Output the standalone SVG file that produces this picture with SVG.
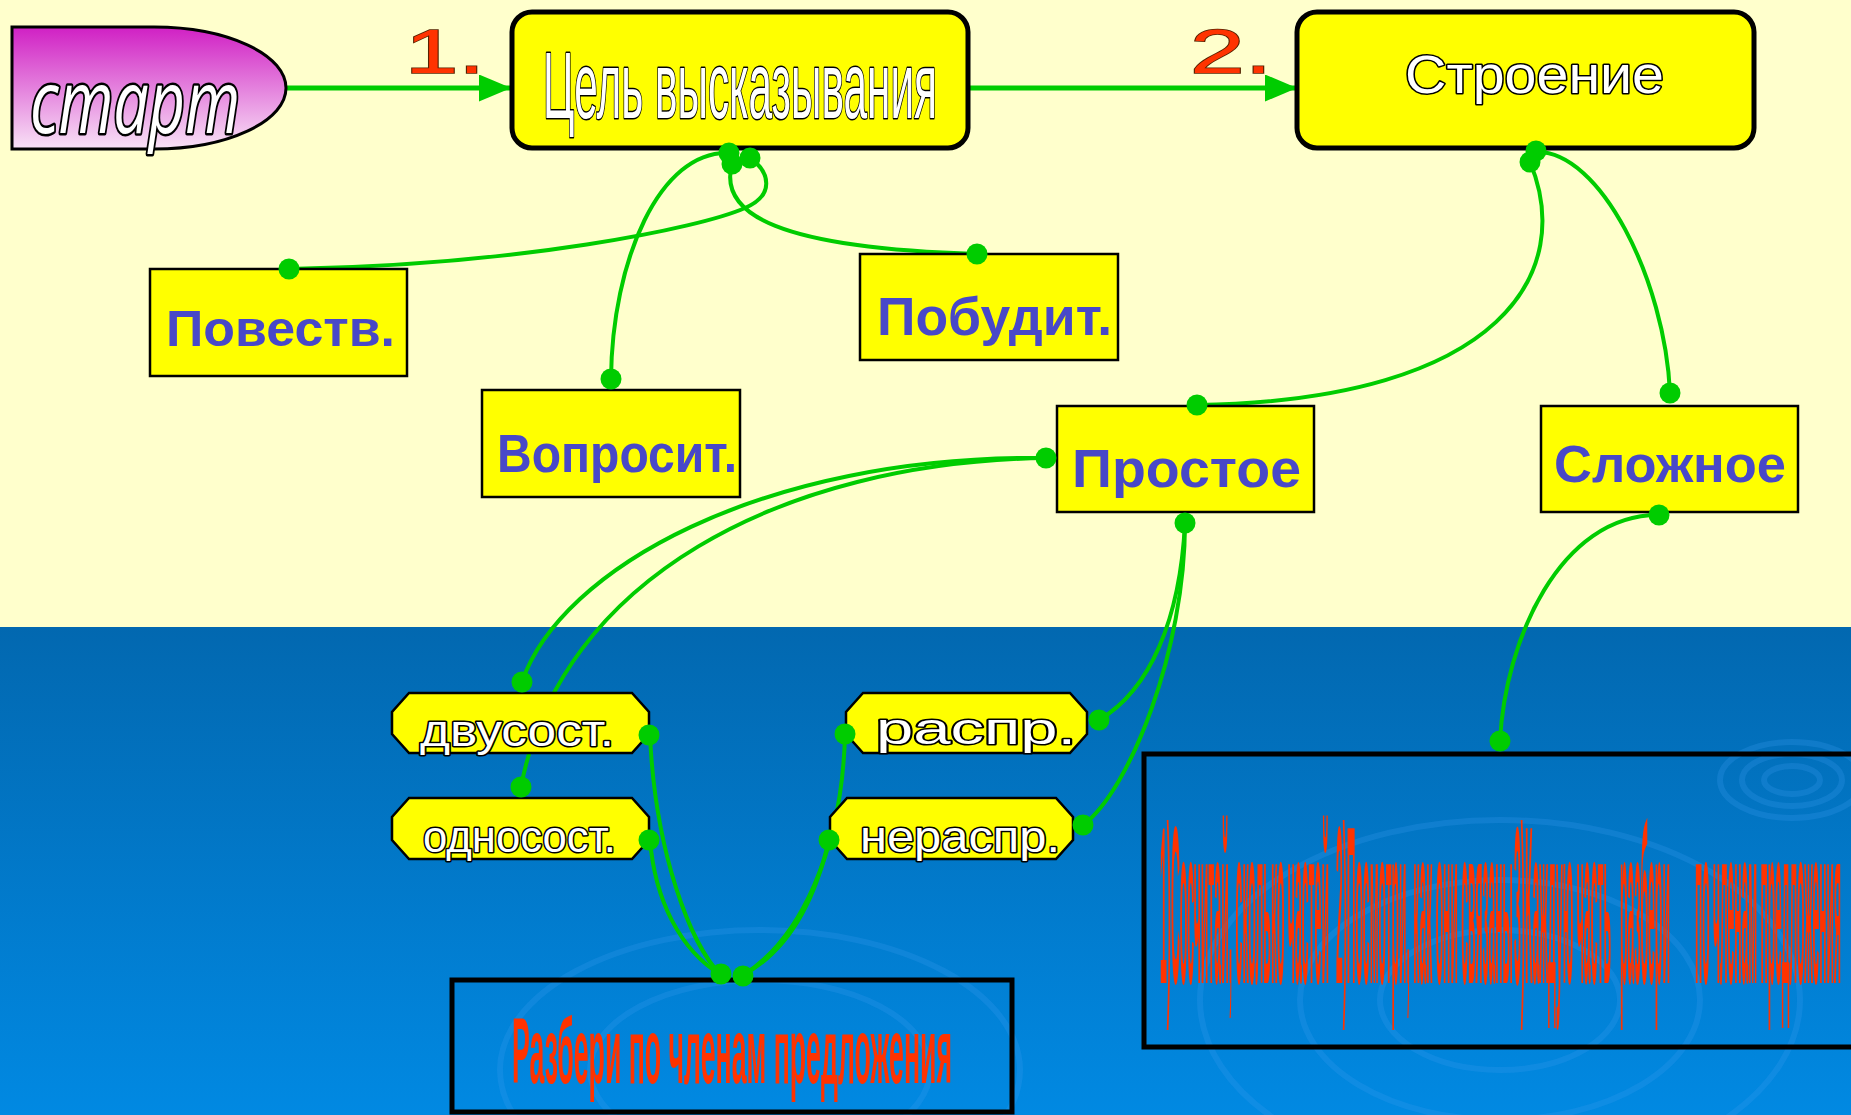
<svg xmlns="http://www.w3.org/2000/svg" width="1851" height="1115" viewBox="0 0 1851 1115">
<defs>
<linearGradient id="sea" x1="0" y1="0" x2="0" y2="1">
<stop offset="0" stop-color="#0268B0"/>
<stop offset="1" stop-color="#0189E2"/>
</linearGradient>
<linearGradient id="startFill" x1="0" y1="0" x2="0" y2="1">
<stop offset="0" stop-color="#D020C4"/>
<stop offset="1" stop-color="#F8E2F6"/>
</linearGradient>
<marker id="arrow" viewBox="0 0 32 27" refX="32" refY="13.5" markerWidth="32" markerHeight="27" markerUnits="userSpaceOnUse" orient="auto">
<path d="M0,0 L32,13.5 L0,27 Z" fill="#00CC00"/>
</marker>
<style>
.rbox{fill:#FFFF00;stroke:#000;stroke-width:5}
.box{fill:#FFFF00;stroke:#000;stroke-width:2.5}
.oct{fill:#FFFF00;stroke:#000;stroke-width:2.5}
.frame{fill:none;stroke:#000;stroke-width:5}
.outline{font-family:"Liberation Sans",Arial,sans-serif;fill:#FFFFFF;stroke:#000;stroke-width:3;paint-order:stroke;stroke-linejoin:round}
.blue{font-family:"Liberation Sans",Arial,sans-serif;font-weight:bold;fill:#4848C8}
.num{font-family:"Liberation Sans",Arial,sans-serif;fill:#FF3300;stroke:#552200;stroke-width:1.5;paint-order:stroke}
.red{font-family:"Liberation Sans",Arial,sans-serif;font-weight:bold;fill:#FF3300}
.link{fill:none;stroke:#00CC00;stroke-width:4;stroke-linecap:round}
.arrowline{stroke:#00CC00;stroke-width:5}
.dot{fill:#00CC00}
.ripple{fill:none;stroke:#3A9BEE;stroke-width:6;opacity:0.25}
</style>
</defs>

<rect x="0" y="0" width="1851" height="627" fill="#FFFFCC"/>
<rect x="0" y="627" width="1851" height="488" fill="url(#sea)"/>
<g id="ripples">
<ellipse class="ripple" cx="1792" cy="780" rx="28" ry="14"/>
<ellipse class="ripple" cx="1792" cy="780" rx="50" ry="26"/>
<ellipse class="ripple" cx="1792" cy="780" rx="72" ry="38" opacity="0.15"/>
<ellipse class="ripple" cx="1500" cy="1000" rx="120" ry="70"/>
<ellipse class="ripple" cx="1500" cy="1000" rx="200" ry="120" opacity="0.2"/>
<ellipse class="ripple" cx="1500" cy="1000" rx="300" ry="180" opacity="0.15"/>
<ellipse class="ripple" cx="760" cy="1070" rx="170" ry="90" opacity="0.15"/>
<ellipse class="ripple" cx="760" cy="1070" rx="260" ry="140" opacity="0.12"/>
</g>

<g id="connectors">
<line class="arrowline" x1="286" y1="88" x2="511" y2="88" marker-end="url(#arrow)"/>
<line class="arrowline" x1="968" y1="88" x2="1297" y2="88" marker-end="url(#arrow)"/>
<path class="link" d="M750,158 C770,172 775,195 745,208 C700,228 520,265 289,269"/>
<path class="link" d="M729,153 C660,150 612,260 611,379"/>
<path class="link" d="M732,164 C718,215 780,248 977,254"/>
<path class="link" d="M1530,162 C1575,270 1505,400 1197,405"/>
<path class="link" d="M1536,152 C1600,150 1665,280 1670,393"/>
<path class="link" d="M1046,458 C760,455 560,570 522,682"/>
<path class="link" d="M1046,458 C780,462 560,580 521,787"/>
<path class="link" d="M1185,523 C1180,620 1150,690 1099,720"/>
<path class="link" d="M1185,523 C1185,650 1130,790 1083,825"/>
<path class="link" d="M650,735 C655,850 690,945 721,975"/>
<path class="link" d="M650,840 C655,900 680,950 721,975"/>
<path class="link" d="M845,735 C842,850 800,940 743,975"/>
<path class="link" d="M829,840 C815,900 790,950 743,975"/>
<path class="link" d="M1658,515 C1560,515 1505,640 1500,741"/>
</g>

<g id="start">
<path d="M12,27 H154 A132,61 0 0 1 154,149 H12 Z" fill="url(#startFill)" stroke="#000" stroke-width="3"/>
<text class="outline" x="30" y="133" font-size="88" font-style="italic" textLength="210" lengthAdjust="spacingAndGlyphs" style="font-family:'Open Sans','Liberation Sans',sans-serif;stroke-width:5">старт</text>
</g>

<g id="label-1"><text class="num" x="405" y="73" font-size="63" textLength="80" lengthAdjust="spacingAndGlyphs">1.</text></g>
<g id="label-2"><text class="num" x="1190" y="73" font-size="63" textLength="82" lengthAdjust="spacingAndGlyphs">2.</text></g>

<g id="node-tsel">
<rect class="rbox" x="512" y="12" width="456" height="136" rx="20"/>
<text class="outline" x="543" y="118" font-size="95" textLength="394" lengthAdjust="spacingAndGlyphs">Цель высказывания</text>
</g>

<g id="node-stroenie">
<rect class="rbox" x="1297" y="12" width="457" height="136" rx="20"/>
<text class="outline" x="1405" y="93" font-size="53" textLength="259" lengthAdjust="spacingAndGlyphs">Строение</text>
</g>

<g id="node-povestv">
<rect class="box" x="150" y="269" width="257" height="107"/>
<text class="blue" x="166" y="346" font-size="50" textLength="229" lengthAdjust="spacingAndGlyphs">Повеств.</text>
</g>

<g id="node-voprosit">
<rect class="box" x="482" y="390" width="258" height="107"/>
<text class="blue" x="497" y="472" font-size="54" textLength="240" lengthAdjust="spacingAndGlyphs">Вопросит.</text>
</g>

<g id="node-pobudit">
<rect class="box" x="860" y="254" width="258" height="106"/>
<text class="blue" x="877" y="335" font-size="53" textLength="235" lengthAdjust="spacingAndGlyphs">Побудит.</text>
</g>

<g id="node-prostoe">
<rect class="box" x="1057" y="406" width="257" height="106"/>
<text class="blue" x="1072" y="487" font-size="54" textLength="229" lengthAdjust="spacingAndGlyphs">Простое</text>
</g>

<g id="node-slozhnoe">
<rect class="box" x="1541" y="406" width="257" height="106"/>
<text class="blue" x="1554" y="482" font-size="52" textLength="232" lengthAdjust="spacingAndGlyphs">Сложное</text>
</g>

<g id="node-dvusost">
<path class="oct" d="M409,693 H632 L649,712 V734 L632,753 H409 L392,734 V712 Z"/>
<text class="outline" x="420" y="746" font-size="44" textLength="194" lengthAdjust="spacingAndGlyphs">двусост.</text>
</g>

<g id="node-odnosost">
<path class="oct" d="M409,798 H632 L649,817 V840 L632,859 H409 L392,840 V817 Z"/>
<text class="outline" x="423" y="852" font-size="44" textLength="193" lengthAdjust="spacingAndGlyphs">односост.</text>
</g>

<g id="node-raspr">
<path class="oct" d="M863,693 H1070 L1087,712 V734 L1070,753 H863 L846,734 V712 Z"/>
<text class="outline" x="876" y="744" font-size="44" textLength="200" lengthAdjust="spacingAndGlyphs">распр.</text>
</g>

<g id="node-neraspr">
<path class="oct" d="M847,798 H1056 L1073,817 V840 L1056,859 H847 L830,840 V817 Z"/>
<text class="outline" x="860" y="852" font-size="44" textLength="200" lengthAdjust="spacingAndGlyphs">нераспр.</text>
</g>

<g id="node-razberi">
<rect class="frame" x="452" y="980" width="560" height="132"/>
<text class="red" x="512" y="1083" font-size="92" textLength="440" lengthAdjust="spacingAndGlyphs">Разбери по членам предложения</text>
</g>

<g id="node-plan">
<rect class="frame" x="1144" y="754" width="720" height="293"/>
<text class="red" x="1160" y="983" font-size="225" textLength="169" lengthAdjust="spacingAndGlyphs">1)Сосчитай, сколько частей</text>
<text class="red" x="1336" y="983" font-size="225" textLength="177" lengthAdjust="spacingAndGlyphs">2)Посмотри, как они связаны</text>
<text class="red" x="1514" y="983" font-size="225" textLength="97" lengthAdjust="spacingAndGlyphs">3)Каждую часть</text>
<text class="red" x="1620" y="983" font-size="225" textLength="50" lengthAdjust="spacingAndGlyphs">разбери</text>
<text class="red" x="1695" y="983" font-size="225" textLength="146" lengthAdjust="spacingAndGlyphs">по членам предложения</text>
</g>

<g id="connector-ends">
<circle class="dot" cx="729" cy="153" r="10.5"/>
<circle class="dot" cx="732" cy="164" r="10.5"/>
<circle class="dot" cx="750" cy="158" r="10.5"/>
<circle class="dot" cx="289" cy="269" r="10.5"/>
<circle class="dot" cx="611" cy="379" r="10.5"/>
<circle class="dot" cx="977" cy="254" r="10.5"/>
<circle class="dot" cx="1536" cy="151" r="10.5"/>
<circle class="dot" cx="1530" cy="162" r="10.5"/>
<circle class="dot" cx="1197" cy="405" r="10.5"/>
<circle class="dot" cx="1670" cy="393" r="10.5"/>
<circle class="dot" cx="1046" cy="458" r="10.5"/>
<circle class="dot" cx="1185" cy="523" r="10.5"/>
<circle class="dot" cx="1659" cy="515" r="10.5"/>
<circle class="dot" cx="522" cy="682" r="10.5"/>
<circle class="dot" cx="521" cy="787" r="10.5"/>
<circle class="dot" cx="649" cy="735" r="10.5"/>
<circle class="dot" cx="649" cy="840" r="10.5"/>
<circle class="dot" cx="845" cy="734" r="10.5"/>
<circle class="dot" cx="1099" cy="720" r="10.5"/>
<circle class="dot" cx="829" cy="840" r="10.5"/>
<circle class="dot" cx="1083" cy="825" r="10.5"/>
<circle class="dot" cx="721" cy="974" r="10.5"/>
<circle class="dot" cx="743" cy="976" r="10.5"/>
<circle class="dot" cx="1500" cy="741" r="10.5"/>
</g>
</svg>
